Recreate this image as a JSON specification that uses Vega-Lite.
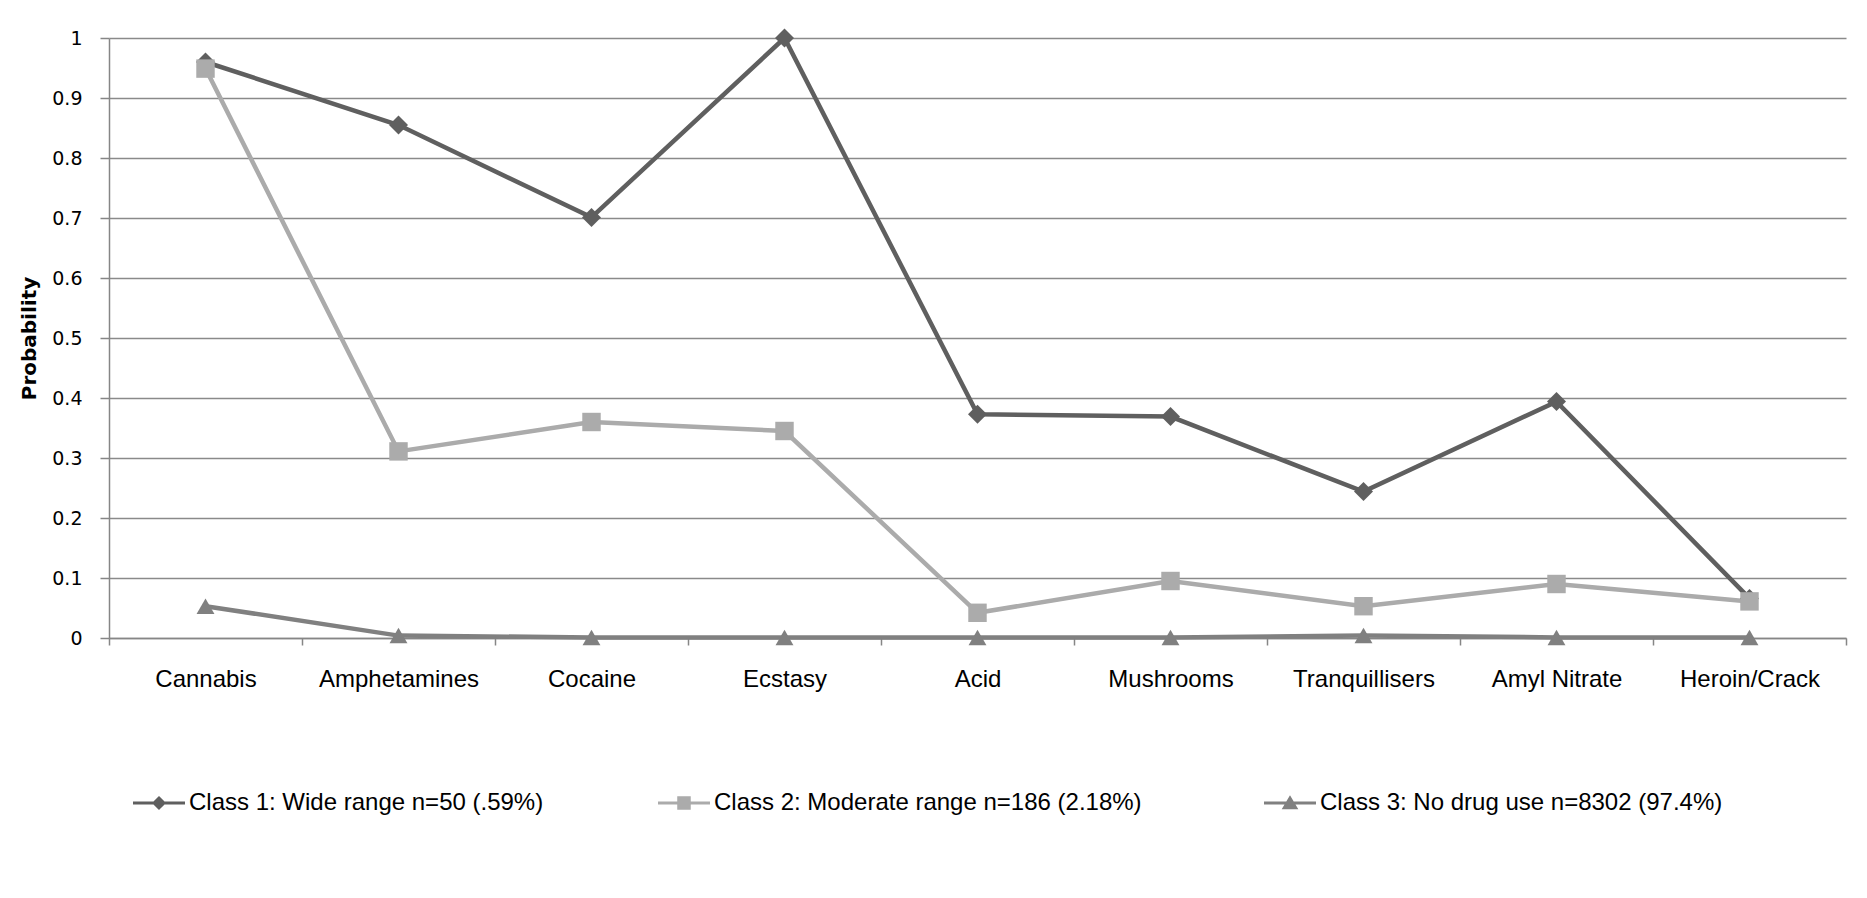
{
  "$schema": "https://vega.github.io/schema/vega-lite/v6.json",
  "width": 1737,
  "height": 600,
  "autosize": "none",
  "padding": {"left": 109, "top": 38, "right": 21, "bottom": 260},
  "background": "white",
  "config": {
    "view": {"stroke": null},
    "axis": {"labelColor": "#000000", "titleColor": "#000000"},
    "legend": {
      "orient": "none",
      "legendY": 739,
      "direction": "horizontal",
      "title": null,
      "labelFont": "Liberation Sans",
      "labelFontSize": 24,
      "labelColor": "#000000",
      "labelLimit": 0,
      "labelOffset": 4,
      "symbolSize": 2704,
      "symbolStrokeWidth": 0,
      "symbolOpacity": 1
    }
  },
  "data": {
    "values": [
      {"cls": "Class 1: Wide range n=50 (.59%)", "drug": "Cannabis", "idx": 1, "p": 0.960},
      {"cls": "Class 1: Wide range n=50 (.59%)", "drug": "Amphetamines", "idx": 2, "p": 0.855},
      {"cls": "Class 1: Wide range n=50 (.59%)", "drug": "Cocaine", "idx": 3, "p": 0.701},
      {"cls": "Class 1: Wide range n=50 (.59%)", "drug": "Ecstasy", "idx": 4, "p": 1.0},
      {"cls": "Class 1: Wide range n=50 (.59%)", "drug": "Acid", "idx": 5, "p": 0.373},
      {"cls": "Class 1: Wide range n=50 (.59%)", "drug": "Mushrooms", "idx": 6, "p": 0.369},
      {"cls": "Class 1: Wide range n=50 (.59%)", "drug": "Tranquillisers", "idx": 7, "p": 0.244},
      {"cls": "Class 1: Wide range n=50 (.59%)", "drug": "Amyl Nitrate", "idx": 8, "p": 0.394},
      {"cls": "Class 1: Wide range n=50 (.59%)", "drug": "Heroin/Crack", "idx": 9, "p": 0.066},
      {"cls": "Class 2: Moderate range n=186 (2.18%)", "drug": "Cannabis", "idx": 1, "p": 0.949},
      {"cls": "Class 2: Moderate range n=186 (2.18%)", "drug": "Amphetamines", "idx": 2, "p": 0.311},
      {"cls": "Class 2: Moderate range n=186 (2.18%)", "drug": "Cocaine", "idx": 3, "p": 0.360},
      {"cls": "Class 2: Moderate range n=186 (2.18%)", "drug": "Ecstasy", "idx": 4, "p": 0.345},
      {"cls": "Class 2: Moderate range n=186 (2.18%)", "drug": "Acid", "idx": 5, "p": 0.042},
      {"cls": "Class 2: Moderate range n=186 (2.18%)", "drug": "Mushrooms", "idx": 6, "p": 0.095},
      {"cls": "Class 2: Moderate range n=186 (2.18%)", "drug": "Tranquillisers", "idx": 7, "p": 0.053},
      {"cls": "Class 2: Moderate range n=186 (2.18%)", "drug": "Amyl Nitrate", "idx": 8, "p": 0.090},
      {"cls": "Class 2: Moderate range n=186 (2.18%)", "drug": "Heroin/Crack", "idx": 9, "p": 0.061},
      {"cls": "Class 3: No drug use n=8302 (97.4%)", "drug": "Cannabis", "idx": 1, "p": 0.053},
      {"cls": "Class 3: No drug use n=8302 (97.4%)", "drug": "Amphetamines", "idx": 2, "p": 0.004},
      {"cls": "Class 3: No drug use n=8302 (97.4%)", "drug": "Cocaine", "idx": 3, "p": 0.001},
      {"cls": "Class 3: No drug use n=8302 (97.4%)", "drug": "Ecstasy", "idx": 4, "p": 0.001},
      {"cls": "Class 3: No drug use n=8302 (97.4%)", "drug": "Acid", "idx": 5, "p": 0.001},
      {"cls": "Class 3: No drug use n=8302 (97.4%)", "drug": "Mushrooms", "idx": 6, "p": 0.001},
      {"cls": "Class 3: No drug use n=8302 (97.4%)", "drug": "Tranquillisers", "idx": 7, "p": 0.004},
      {"cls": "Class 3: No drug use n=8302 (97.4%)", "drug": "Amyl Nitrate", "idx": 8, "p": 0.001},
      {"cls": "Class 3: No drug use n=8302 (97.4%)", "drug": "Heroin/Crack", "idx": 9, "p": 0.001}
    ]
  },
  "encoding": {
    "x": {
      "field": "drug",
      "type": "nominal",
      "sort": ["Cannabis", "Amphetamines", "Cocaine", "Ecstasy", "Acid", "Mushrooms", "Tranquillisers", "Amyl Nitrate", "Heroin/Crack"],
      "scale": {"type": "band", "paddingInner": 0, "paddingOuter": 0},
      "axis": {
        "title": null,
        "labelAngle": 0,
        "labelFont": "Liberation Sans",
        "labelFontSize": 24,
        "labelPadding": 22,
        "labelLimit": 0,
        "tickBand": "extent",
        "tickSize": 7,
        "tickColor": "#868686",
        "tickWidth": 1.5,
        "domainColor": "#868686",
        "domainWidth": 1.5,
        "grid": false
      }
    },
    "y": {
      "field": "p",
      "type": "quantitative",
      "scale": {"domain": [0, 1], "nice": false, "zero": true},
      "axis": {
        "title": "Probability",
        "titleFont": "DejaVu Sans",
        "titleFontSize": 20,
        "titleFontWeight": "bold",
        "titlePadding": 12,
        "values": [0, 0.1, 0.2, 0.3, 0.4, 0.5, 0.6, 0.7, 0.8, 0.9, 1],
        "format": "~g",
        "labelFont": "DejaVu Sans",
        "labelFontSize": 19,
        "labelPadding": 18,
        "tickSize": 9,
        "tickColor": "#868686",
        "tickWidth": 1.5,
        "domainColor": "#868686",
        "domainWidth": 1.5,
        "grid": true,
        "gridColor": "#8a8a8a",
        "gridWidth": 1.5
      }
    }
  },
  "layer": [
    {
      "mark": {"type": "line", "strokeWidth": 4.5},
      "encoding": {
        "color": {
          "field": "cls",
          "type": "nominal",
          "scale": {
            "domain": ["Class 1: Wide range n=50 (.59%)", "Class 2: Moderate range n=186 (2.18%)", "Class 3: No drug use n=8302 (97.4%)"],
            "range": ["#5f5f5f", "#ababab", "#808080"]
          },
          "legend": null
        },
        "order": {"field": "idx", "type": "quantitative"}
      }
    },
    {
      "mark": {"type": "point", "filled": true, "opacity": 1, "strokeWidth": 0},
      "encoding": {
        "color": {
          "field": "cls",
          "type": "nominal",
          "scale": {
            "domain": ["Class 1: Wide range n=50 (.59%)", "Class 2: Moderate range n=186 (2.18%)", "Class 3: No drug use n=8302 (97.4%)"],
            "range": ["#5f5f5f", "#ababab", "#808080"]
          },
          "legend": null
        },
        "shape": {
          "field": "cls",
          "type": "nominal",
          "scale": {
            "domain": ["Class 1: Wide range n=50 (.59%)", "Class 2: Moderate range n=186 (2.18%)", "Class 3: No drug use n=8302 (97.4%)"],
            "range": ["diamond", "square", "triangle-up"]
          },
          "legend": null
        },
        "size": {
          "field": "cls",
          "type": "nominal",
          "scale": {
            "domain": ["Class 1: Wide range n=50 (.59%)", "Class 2: Moderate range n=186 (2.18%)", "Class 3: No drug use n=8302 (97.4%)"],
            "range": [360, 320, 460]
          },
          "legend": null
        }
      }
    },
    {
      "transform": [{"filter": "false"}],
      "mark": {"type": "point", "filled": true, "opacity": 1, "size": 2704, "strokeWidth": 0, "color": "#5f5f5f"},
      "encoding": {
        "shape": {
          "field": "cls",
          "type": "nominal",
          "scale": {
            "domain": ["Class 1: Wide range n=50 (.59%)"],
            "range": ["M-1,-0.06H1V0.06H-1Z M0,-0.27L0.27,0L0,0.27L-0.27,0Z"]
          },
          "legend": {"legendX": 24}
        }
      }
    },
    {
      "transform": [{"filter": "false"}],
      "mark": {"type": "point", "filled": true, "opacity": 1, "size": 2704, "strokeWidth": 0, "color": "#ababab"},
      "encoding": {
        "shape": {
          "field": "cls",
          "type": "nominal",
          "scale": {
            "domain": ["Class 2: Moderate range n=186 (2.18%)"],
            "range": ["M-1,-0.06H1V0.06H-1Z M-0.26,-0.26H0.26V0.26H-0.26Z"]
          },
          "legend": {"legendX": 549}
        }
      }
    },
    {
      "transform": [{"filter": "false"}],
      "mark": {"type": "point", "filled": true, "opacity": 1, "size": 2704, "strokeWidth": 0, "color": "#808080"},
      "encoding": {
        "shape": {
          "field": "cls",
          "type": "nominal",
          "scale": {
            "domain": ["Class 3: No drug use n=8302 (97.4%)"],
            "range": ["M-1,-0.06H1V0.06H-1Z M0,-0.3L0.32,0.24H-0.32Z"]
          },
          "legend": {"legendX": 1155}
        }
      }
    }
  ],
  "resolve": {"scale": {"shape": "independent", "size": "independent"}, "legend": {"shape": "independent"}}
}
